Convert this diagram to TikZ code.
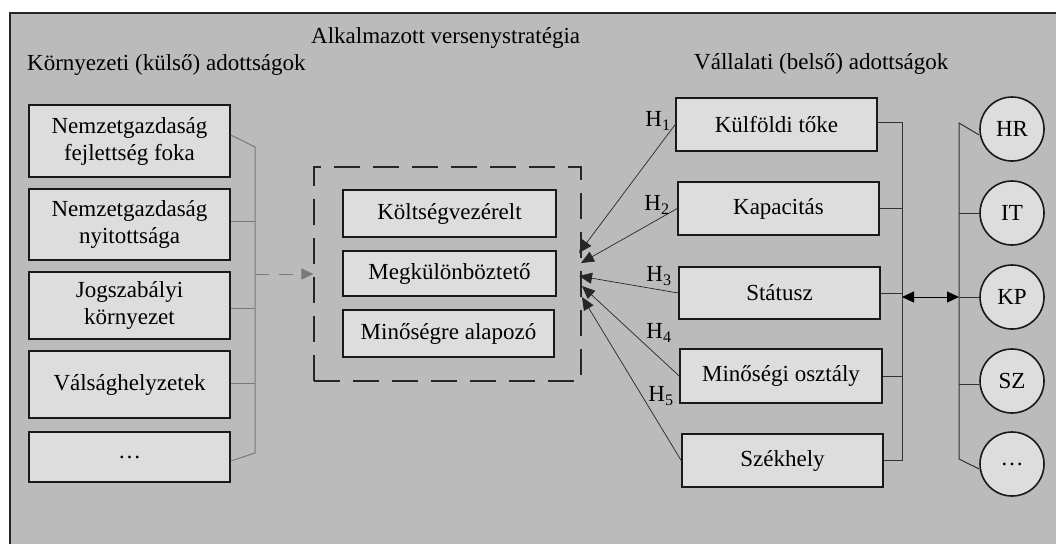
\documentclass[tikz,border=0pt]{standalone}
\usepackage{fontspec}
\setmainfont{Liberation Serif}
\usetikzlibrary{arrows.meta,calc}
\definecolor{bggray}{HTML}{BBBBBB}
\definecolor{boxgray}{HTML}{DDDDDD}
\definecolor{linegray}{HTML}{7A7A7A}
\tikzset{
  txt/.style={font=\fontsize{23}{27}\selectfont},
  box/.style={draw=black!90, line width=1.6pt, fill=boxgray, inner sep=0pt, align=center, txt},
  circ/.style={circle, draw=black!90, line width=1.6pt, fill=boxgray, inner sep=0pt, minimum size=64pt, txt},
  dbox/.style={draw=black!85, line width=1.2pt, dash pattern=on 26pt off 13pt, inner sep=0pt, minimum width=267pt, minimum height=214pt},
  conn/.style={draw=linegray, line width=1pt},
  rconn/.style={draw=black!80, line width=1pt},
  harrow/.style={draw=black!85, line width=0.7pt, -{Triangle[length=13pt,width=11pt]}},
  darrow/.style={draw=black, line width=1pt, {Triangle[length=12pt,width=11pt]}-{Triangle[length=12pt,width=11pt]}},
  garrow/.style={draw=linegray, line width=1pt, dash pattern=on 14pt off 10pt, -{Triangle[length=12pt,width=11pt,fill=linegray]}},
  hlab/.style={txt, inner sep=0pt}
}
\begin{document}
\begin{tikzpicture}[x=1pt,y=-1pt]
\useasboundingbox (0,0) rectangle (1056,544);
\fill[bggray] (10,13) rectangle (1056,544);
\draw[black!85, line width=1.6pt] (10,544) -- (10,13) -- (1056,13);

% headings
\node[txt, anchor=base west, inner sep=0pt] (h0) at (311,43) {Alkalmazott versenystratégia};
\node[txt, anchor=base west, inner sep=0pt] (h1) at (27,70) {Környezeti (külső) adottságok};
\node[txt, anchor=base west, inner sep=0pt] (h2) at (694,69) {Vállalati (belső) adottságok};

% left boxes
\node[box, minimum width=201pt, minimum height=72pt] (L1) at (129.5,141) {Nemzetgazdaság\\fejlettség foka};
\node[box, minimum width=201pt, minimum height=71pt] (L2) at (129.5,224.5) {Nemzetgazdaság\\nyitottsága};
\node[box, minimum width=201pt, minimum height=67pt] (L3) at (129.5,305.5) {Jogszabályi\\környezet};
\node[box, minimum width=201pt, minimum height=67pt] (L4) at (129.5,384.5) {Válsághelyzetek};
\node[box, minimum width=201pt, minimum height=50pt] (L5) at (129.5,457) {…};

\coordinate (bl1) at (255,147);
\coordinate (bl5) at (255,453);
\draw[conn] ([yshift=6pt]L1.east) -- (bl1) -- (bl5) -- ([yshift=-4pt]L5.east);
\draw[conn] ([yshift=3.5pt]L2.east) -- ([yshift=3.5pt]L2.east -| bl1);
\draw[conn] ([yshift=-2.5pt]L3.east) -- ([yshift=-2.5pt]L3.east -| bl1);
\draw[conn] ([yshift=1.5pt]L4.east) -- ([yshift=1.5pt]L4.east -| bl1);

% strategy box
\node[dbox] (D) at (447.5,274) {};
\node[box, minimum width=213pt, minimum height=47pt] (S1) at (449.5,213.5) {Költségvezérelt};
\node[box, minimum width=213pt, minimum height=45pt] (S2) at (449.5,273.5) {Megkülönböztető};
\node[box, minimum width=211pt, minimum height=47pt] (S3) at (448.5,333.5) {Minőségre alapozó};
\draw[garrow] (D.west -| bl1) -- (D.west);

% right boxes
\node[box, minimum width=201pt, minimum height=53pt] (R1) at (776.5,124.5) {Külföldi tőke};
\node[box, minimum width=201pt, minimum height=53pt] (R2) at (778.5,208.5) {Kapacitás};
\node[box, minimum width=201pt, minimum height=52pt] (R3) at (779.5,293) {Státusz};
\node[box, minimum width=202pt, minimum height=54pt] (R4) at (781,376) {Minőségi osztály};
\node[box, minimum width=201pt, minimum height=53pt] (R5) at (782.5,460.5) {Székhely};

\coordinate (t1) at (579,253);
\coordinate (t2) at (581,263);
\coordinate (t3) at (579,276);
\coordinate (t4) at (582,286);
\coordinate (t5) at (582,297);
\draw[harrow] (R1.west) -- (t1);
\draw[harrow] (R2.west) -- (t2);
\draw[harrow] (R3.west) -- (t3);
\draw[harrow] (R4.west) -- (t4);
\draw[harrow] (R5.west) -- (t5);

\node[hlab] (H1) at (658,121) {H\textsubscript{1}};
\node[hlab] (H2) at (657,205) {H\textsubscript{2}};
\node[hlab] (H3) at (659,276) {H\textsubscript{3}};
\node[hlab] (H4) at (659,333) {H\textsubscript{4}};
\node[hlab] (H5) at (661,396) {H\textsubscript{5}};

% right bus
\coordinate (br1) at (902,122);
\coordinate (br5) at (902,460);
\draw[rconn] (R1.east |- br1) -- (br1) -- (br5) -- (R5.east |- br5);
\draw[rconn] (R2.east) -- (R2.east -| br1);
\draw[rconn] (R3.east) -- (R3.east -| br1);
\draw[rconn] (R4.east) -- (R4.east -| br1);

% circles
\node[circ] (C1) at (1012,129) {HR};
\node[circ] (C2) at (1012,213) {IT};
\node[circ] (C3) at (1012,297) {KP};
\node[circ] (C4) at (1012,381) {SZ};
\node[circ] (C5) at (1012,464) {…};

\coordinate (bc1) at (959,123);
\coordinate (bc5) at (959,459);
\draw[rconn] ([yshift=-6pt]C1.west) -- (bc1) -- (bc5) -- ([yshift=-5pt]C5.west);
\draw[rconn] (C2.west) -- (C2.west -| bc1);
\draw[rconn] (C3.west) -- (C3.west -| bc1);
\draw[rconn] ([yshift=-3pt]C4.west) -- ([yshift=-3pt]C4.west -| bc1);

\draw[darrow] (C3.west -| br1) -- (C3.west -| bc1);
\end{tikzpicture}
\end{document}
